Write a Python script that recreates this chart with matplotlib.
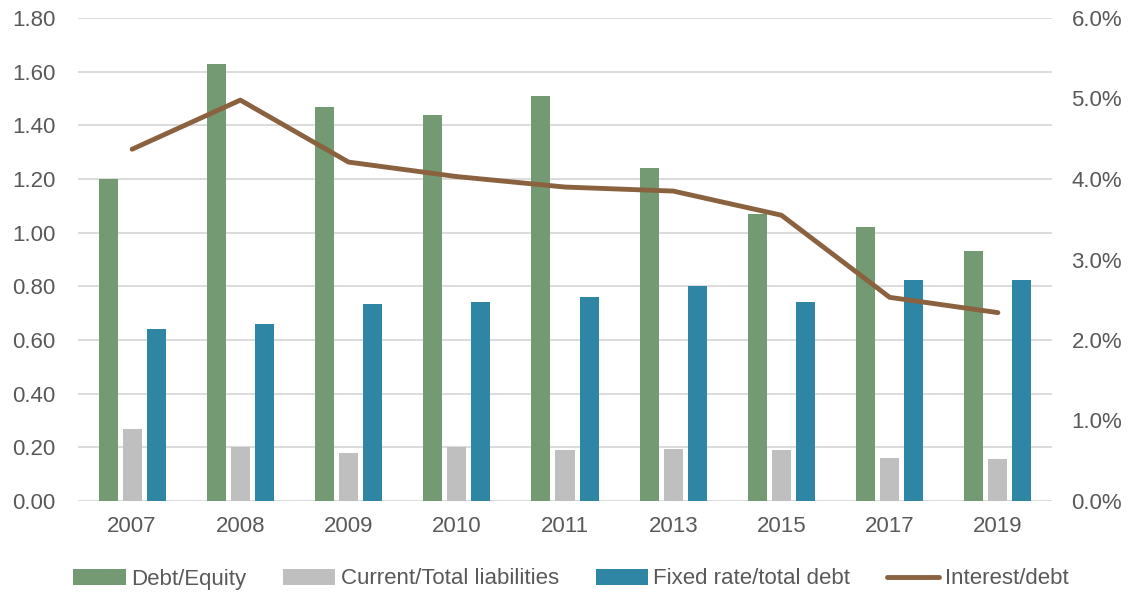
import numpy as np
import matplotlib.pyplot as plt
from matplotlib.ticker import FuncFormatter

plt.rcParams['font.family'] = ['Liberation Sans', 'DejaVu Sans']

years = ["2007", "2008", "2009", "2010", "2011", "2013", "2015", "2017", "2019"]
debt_equity = [1.20, 1.63, 1.47, 1.44, 1.51, 1.24, 1.07, 1.02, 0.93]
current_total = [0.27, 0.20, 0.18, 0.20, 0.19, 0.195, 0.19, 0.16, 0.155]
fixed_rate = [0.64, 0.66, 0.735, 0.74, 0.76, 0.80, 0.74, 0.825, 0.825]
interest_debt = [4.37, 4.98, 4.21, 4.03, 3.90, 3.85, 3.55, 2.53, 2.34]

c_green = "#739a72"
c_gray = "#bfbfbf"
c_blue = "#2e86a4"
c_brown = "#8b6240"
c_text = "#595959"

fig = plt.figure(figsize=(11.33, 5.98), dpi=100)
ax = fig.add_axes([78 / 1133, 1 - 501 / 598, (1052 - 78) / 1133, (501 - 18) / 598])
ax2 = ax.twinx()

x = np.arange(len(years))
w = 0.176
step = 0.222
ax.bar(x - step, debt_equity, w, color=c_green, label="Debt/Equity", zorder=3)
ax.bar(x, current_total, w, color=c_gray, label="Current/Total liabilities", zorder=3)
ax.bar(x + step, fixed_rate, w, color=c_blue, label="Fixed rate/total debt", zorder=3)
ax2.plot(x, interest_debt, color=c_brown, lw=3.5, label="Interest/debt", solid_capstyle="round")

ax.set_xlim(-0.5, len(years) - 0.5)
ax.set_ylim(0, 1.8)
ax.set_yticks(np.arange(0, 1.81, 0.2))
ax.yaxis.set_major_formatter(FuncFormatter(lambda v, p: f"{v:.2f}"))
ax2.set_ylim(0, 6)
ax2.set_yticks(np.arange(0, 6.1, 1))
ax2.yaxis.set_major_formatter(FuncFormatter(lambda v, p: f"{v:.1f}%"))

ax.set_xticks(x)
ax.set_xticklabels(years)
ax.grid(axis="y", color="#d9d9d9", lw=1.3, zorder=0)
ax.set_axisbelow(True)

for a in (ax, ax2):
    for s in a.spines.values():
        s.set_visible(False)
    a.tick_params(length=0, labelsize=16, colors=c_text)
ax.tick_params(axis="x", pad=11)
ax.tick_params(axis="y", pad=16)
ax2.tick_params(axis="y", pad=14)

h1, l1 = ax.get_legend_handles_labels()
h2, l2 = ax2.get_legend_handles_labels()
fig.legend(h1 + h2, l1 + l2, loc="center", bbox_to_anchor=(0.504, 1 - 579 / 598), ncol=4,
           frameon=False, fontsize=16, labelcolor=c_text, handlelength=2.35,
           handletextpad=0.25, columnspacing=1.65)

fig.savefig("out.png", dpi=100)
